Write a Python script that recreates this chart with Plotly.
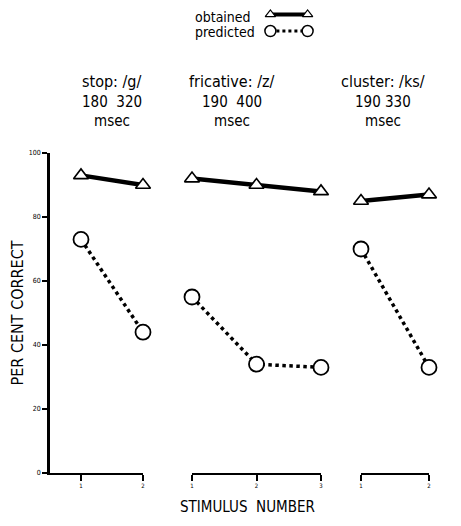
import plotly.graph_objects as go

# ---- data ----
conditions = ["stop: /g/", "fricative: /z/", "cluster: /ks/"]
durations = ["180  320", "190  400", "190 330"]
stim_stop = [1, 2]
stim_fric = [1, 2, 3]
stim_clus = [1, 2]
obtained_stop = [93, 90]
obtained_fric = [92, 90, 88]
obtained_clus = [85, 87]
predicted_stop = [73, 44]
predicted_fric = [55, 34, 33]
predicted_clus = [70, 33]
y_ticks = [0, 20, 40, 60, 80, 100]

OFF = 8  # default page body margin
W, H = 461 - OFF, 526 - OFF
L, R = 50 - OFF, 25 - OFF
T = 0
B = H - (473 - OFF)
PW = W - L - R
PH = H - T - B
FONT = "DejaVu Sans Condensed, Liberation Sans Narrow, Arial Narrow, sans-serif"


def px_x(p):
    return (p - OFF - L) / PW


def px_y(p):
    return (H - B - (p - OFF)) / PH


fig = go.Figure()

groups = [
    ("x", stim_stop, obtained_stop, predicted_stop),
    ("x2", stim_fric, obtained_fric, predicted_fric),
    ("x3", stim_clus, obtained_clus, predicted_clus),
]
for xa, xs, ob, pr in groups:
    fig.add_trace(go.Scatter(
        x=xs, y=pr, xaxis=xa, yaxis="y", mode="lines+markers",
        line=dict(color="black", width=3.5, dash="dot"),
        marker=dict(symbol="circle", size=15, color="white",
                    line=dict(color="black", width=1.8)),
        cliponaxis=False, showlegend=False))
    fig.add_trace(go.Scatter(
        x=xs, y=ob, xaxis=xa, yaxis="y", mode="lines+markers",
        line=dict(color="black", width=4.5),
        marker=dict(symbol="triangle-up", size=13, color="white",
                    line=dict(color="black", width=1.6)),
        cliponaxis=False, showlegend=False))

# legend glyphs on a small auxiliary axis
fig.add_trace(go.Scatter(
    x=[0.2, 0.8], y=[0.8, 0.8], xaxis="x4", yaxis="y4", mode="lines+markers",
    line=dict(color="black", width=4),
    marker=dict(symbol="triangle-up", size=9, color="white",
                line=dict(color="black", width=1.2)),
    cliponaxis=False, showlegend=False))
fig.add_trace(go.Scatter(
    x=[0.2, 0.8], y=[0.28, 0.28], xaxis="x4", yaxis="y4", mode="lines+markers",
    line=dict(color="black", width=3, dash="dot"),
    marker=dict(symbol="circle", size=11, color="white",
                line=dict(color="black", width=1.5)),
    cliponaxis=False, showlegend=False))

ydom = [0, 320 / PH]
xcommon = dict(showline=True, linecolor="black", linewidth=2.2, ticks="outside",
               ticklen=6, tickwidth=2, tickcolor="black", showgrid=False,
               zeroline=False, anchor="y", mirror=False, automargin=False,
               tickfont=dict(size=6, color="black", family=FONT))
fig.update_layout(
    width=W, height=H,
    margin=dict(l=L, r=R, t=T, b=B, autoexpand=False),
    paper_bgcolor="white", plot_bgcolor="white",
    font=dict(family=FONT, color="black"),
    xaxis=dict(domain=[px_x(50), px_x(143)], range=[0.5, 2],
               tickvals=stim_stop, ticktext=["1", "2"], **xcommon),
    xaxis2=dict(domain=[px_x(192), px_x(321)], range=[1, 3],
                tickvals=stim_fric, ticktext=["1", "2", "3"], **xcommon),
    xaxis3=dict(domain=[px_x(361), px_x(429)], range=[1, 2],
                tickvals=stim_clus, ticktext=["1", "2"], **xcommon),
    yaxis=dict(domain=ydom, range=[0, 100], tickvals=y_ticks,
               showline=True, linecolor="black", linewidth=2.5,
               ticks="outside", ticklen=5, tickwidth=2, tickcolor="black",
               showgrid=False, zeroline=False, anchor="x", automargin=False,
               tickfont=dict(size=7, color="black", family=FONT),
               title=dict(text="PER CENT CORRECT", standoff=8,
                          font=dict(size=16, family=FONT, color="black"))),
    xaxis4=dict(domain=[px_x(258), px_x(320)], range=[0, 1], visible=False,
                anchor="y4"),
    yaxis4=dict(domain=[px_y(40), 1], range=[0, 1], visible=False,
                anchor="x4"),
)


def ann(x, y, text, size, xanchor="center"):
    return dict(x=px_x(x), y=px_y(y), xref="paper", yref="paper", text=text,
                showarrow=False, xanchor=xanchor, yanchor="middle",
                font=dict(size=size, family=FONT, color="black"))


annotations = []
centers = [112, 232, 383]
for name, dur, cx in zip(conditions, durations, centers):
    annotations.append(ann(cx, 81, name, 16))
    annotations.append(ann(cx, 102, dur, 15))
    annotations.append(ann(cx, 121, "msec", 15))
annotations.append(ann(253, 17, "obtained", 14, "right"))
annotations.append(ann(257, 32, "predicted", 14, "right"))
annotations.append(ann(248, 507, "STIMULUS  NUMBER", 15))
fig.update_layout(annotations=annotations)

fig.write_html("out.html")
